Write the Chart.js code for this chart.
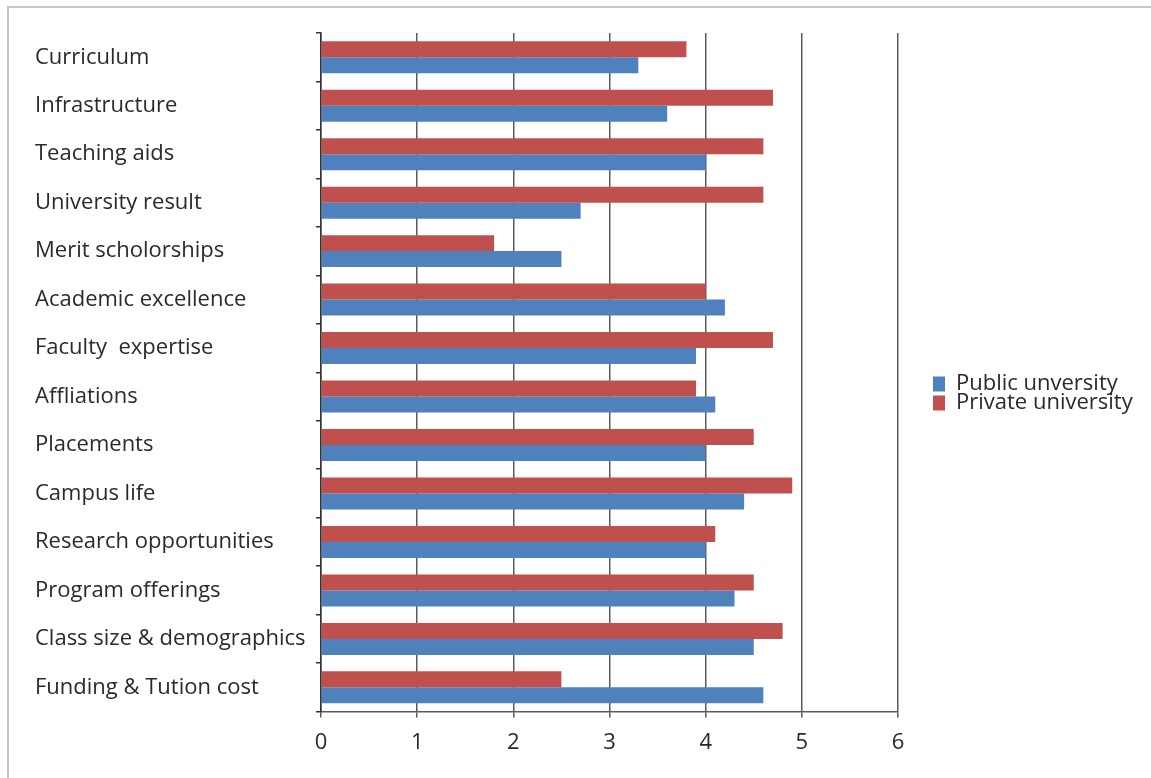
<!DOCTYPE html>
<html>
<head>
<meta charset="utf-8">
<script src="https://cdn.jsdelivr.net/npm/chart.js@4.4.1/dist/chart.umd.min.js"></script>
<style>
  html, body { margin: 0; padding: 0; background: #fff; }
  #wrap { position: relative; width: 1151px; height: 778px; overflow: hidden; }
  #frame { position: absolute; left: 7px; top: 6px; width: 1200px; height: 800px;
           border-left: 2px solid #c6c6c6; border-top: 2px solid #c6c6c6; }
  #c { position: absolute; left: 0; top: 0; }
</style>
</head>
<body>
<div id="wrap">
  <div id="frame"></div>
  <canvas id="c" width="1151" height="778"></canvas>
</div>
<script>
// Factors compared between public and private universities (mean rating)
const categories = [
  'Curriculum',
  'Infrastructure',
  'Teaching aids',
  'University result',
  'Merit scholorships',
  'Academic excellence',
  'Faculty  expertise',
  'Affliations',
  'Placements',
  'Campus life',
  'Research opportunities',
  'Program offerings',
  'Class size & demographics',
  'Funding & Tution cost'
];
const publicValues  = [3.3, 3.6, 4.0, 2.7, 2.5, 4.2, 3.9, 4.1, 4.0, 4.4, 4.0, 4.3, 4.5, 4.6];
const privateValues = [3.8, 4.7, 4.6, 4.6, 1.8, 4.0, 4.7, 3.9, 4.5, 4.9, 4.1, 4.5, 4.8, 2.5];
const xTicks = [0, 1, 2, 3, 4, 5, 6];

const seriesNames = ['Public unversity', 'Private university'];
const BLUE = '#4f81bd';
const RED = '#c0504d';

const FONT_FAMILY = "'Open Sans', 'Liberation Sans', sans-serif";
const FONT_SIZE = 22;
const TEXT = '#2a2a2a';
const GRID = '#5a5a5a';

// Legend geometry: measure the longest legend entry so the plot area
// ends where the last gridline should sit.
const canvas = document.getElementById('c');
const ctx = canvas.getContext('2d');
ctx.font = FONT_SIZE + 'px ' + FONT_FAMILY;
const legendBox = 15;
const legendPad = -3;
const legendTextW = Math.max(...seriesNames.map(s => ctx.measureText(s).width));
const legendWidth = legendPad + legendBox + FONT_SIZE / 2 + legendTextW + 10;
const plotRight = 898;
const padRight = Math.max(0, canvas.width - plotRight - legendWidth);

// Moves the legend away from the plot area (Chart.js places it flush).
const legendShift = {
  id: 'legendShift',
  afterLayout(chart, args, opts) {
    const l = chart.legend;
    if (!l) return;
    l.left += opts.dx; l.right += opts.dx;
    l.top += opts.dy; l.bottom += opts.dy;
  }
};

new Chart(canvas, {
  type: 'bar',
  data: {
    labels: categories,
    datasets: [
      { label: seriesNames[1], data: privateValues, backgroundColor: RED, borderWidth: 0 },
      { label: seriesNames[0], data: publicValues, backgroundColor: BLUE, borderWidth: 0 }
    ]
  },
  options: {
    indexAxis: 'y',
    responsive: false,
    animation: false,
    devicePixelRatio: 1,
    categoryPercentage: 0.66,
    barPercentage: 1.0,
    layout: { padding: { left: 35, top: 33, right: padRight, bottom: 10 } },
    plugins: {
      tooltip: { enabled: false },
      legend: {
        position: 'right',
        reverse: true,
        labels: {
          boxWidth: legendBox,
          boxHeight: legendBox,
          padding: legendPad,
          color: TEXT,
          font: { family: FONT_FAMILY, size: FONT_SIZE }
        }
      },
      legendShift: { dx: 35, dy: -7 }
    },
    scales: {
      x: {
        min: 0,
        max: 6,
        afterBuildTicks(scale) { scale.ticks = xTicks.map(v => ({ value: v })); },
        grid: {
          color: GRID,
          lineWidth: 1.5,
          drawTicks: true,
          tickLength: 6,
          tickColor: GRID
        },
        border: { display: true, color: GRID, width: 1.5 },
        ticks: {
          padding: 12,
          color: TEXT,
          font: { family: FONT_FAMILY, size: FONT_SIZE }
        }
      },
      y: {
        afterFit(scale) { scale.width = 286; },
        grid: {
          drawOnChartArea: false,
          drawTicks: true,
          tickLength: 5,
          tickColor: '#333',
          lineWidth: 1.5,
          offset: true
        },
        border: { display: true, color: '#333', width: 1.5 },
        ticks: {
          crossAlign: 'far',
          padding: 8,
          color: TEXT,
          font: { family: FONT_FAMILY, size: FONT_SIZE }
        }
      }
    }
  },
  plugins: [legendShift]
});
</script>
</body>
</html>
